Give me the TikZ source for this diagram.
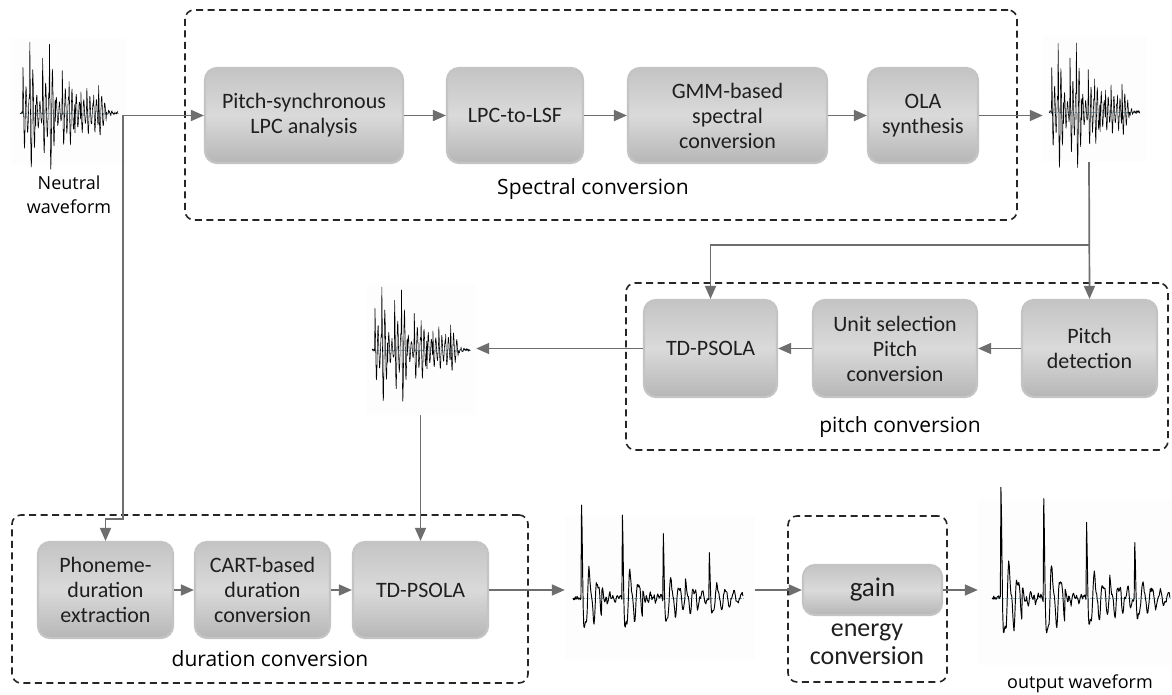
\documentclass[tikz,border=0pt]{standalone}
\usepackage{fontspec}
\setmainfont{Carlito}
\newfontfamily\lblfont{Open Sans}
\usetikzlibrary{arrows.meta,calc}

\definecolor{boxedge}{HTML}{C4C4C4}
\definecolor{boxtop}{HTML}{C4C4C4}
\definecolor{boxmid}{HTML}{DADADA}
\definecolor{boxbot}{HTML}{B6B6B6}
\definecolor{wire}{HTML}{6E6E6E}
\definecolor{zeroline}{HTML}{8DB6CC}
\definecolor{wavebg}{HTML}{FDFDFD}

% draws one speech trace: #1 left end of the zero line, #2 width,
% #3 amplitude scale, #4 signal function, #5 line width, #6 seed
\newcommand\speechtrace[6]{%
  \pgfmathsetseed{#6}%
  \begin{scope}[shift={#1}]
    \draw[zeroline, densely dotted, line width=0.6pt] (0,0) -- (#2,0);
    \draw[black, line width=#5, line join=round]
      plot[domain=0:1, samples=300, variable=\t] ({#2*\t},{-#3*(#4(\t)+0.025*rand)});
  \end{scope}}

\begin{document}
\begin{tikzpicture}[x=1pt,y=-1pt,
  declare function={
    ringa(\t,\p,\a)=(\t>\p)*\a*exp(-min(16*max(\t-\p,0),9))*cos(deg(2*pi*31*max(\t-\p,0)));
    wava(\t)=ringa(\t,0.03,0.7)+ringa(\t,0.10,1.0)+ringa(\t,0.16,-0.55)+ringa(\t,0.23,0.8)
      +ringa(\t,0.30,0.95)+ringa(\t,0.36,-0.5)+ringa(\t,0.43,0.6)+ringa(\t,0.50,0.45)
      +ringa(\t,0.56,-0.55)+ringa(\t,0.62,0.5)+ringa(\t,0.68,0.3)+ringa(\t,0.75,0.25)
      +ringa(\t,0.80,0.6)+ringa(\t,0.88,0.15);
    ringb(\t,\p,\a)=(\t>\p)*\a*exp(-min(8*max(\t-\p,0),9))*(cos(deg(2*pi*21*max(\t-\p,0)))+0.35*cos(deg(2*pi*47*max(\t-\p,0))));
    spikeb(\t,\p,\a)=(\t>\p)*\a*exp(-min(70*max(\t-\p,0),9))*cos(deg(2*pi*30*max(\t-\p,0)));
    wavb(\t)=ringb(\t,0.05,0.5)+spikeb(\t,0.05,0.6)+ringb(\t,0.29,0.5)+spikeb(\t,0.29,0.55)
      +ringb(\t,0.53,0.38)+spikeb(\t,0.53,0.45)+ringb(\t,0.80,0.22)+spikeb(\t,0.80,0.4)
      +ringb(\t,0.17,0.25)+ringb(\t,0.41,0.22)+ringb(\t,0.66,0.18);
  },
  proc/.style={rectangle, rounded corners=12pt, draw=boxedge, line width=2.2pt,
    top color=boxtop, bottom color=boxbot, middle color=boxmid,
    align=center, inner sep=0pt, text=black!88, font=\fontsize{22}{25}\selectfont},
  grp/.style={rectangle, draw=black!85, line width=1.6pt, rounded corners=9pt,
    dash pattern=on 7pt off 4.5pt, inner sep=0pt},
  conn/.style={draw=wire, line width=1.7pt, -{Triangle[length=13pt,width=11pt]}},
  wire/.style={draw=wire, line width=1.7pt},
  wavenode/.style={rectangle, fill=wavebg, inner sep=0pt},
  seclabel/.style={font=\lblfont\fontsize{21}{25}\selectfont, inner sep=0pt},
  wavelabel/.style={font=\lblfont\fontsize{18}{24}\selectfont, align=center, inner sep=0pt},
]
\useasboundingbox (0,0) rectangle (1172,695);
\fill[white] (0,0) rectangle (1172,695);

% dashed group frames
\node[grp, minimum width=832pt, minimum height=210pt] (specgrp) at (601,115) {};
\node[grp, minimum width=542pt, minimum height=167pt] (pitchgrp) at (897,366.5) {};
\node[grp, minimum width=516pt, minimum height=168pt] (durgrp) at (270,599) {};
\node[grp, minimum width=159pt, minimum height=166pt] (enggrp) at (867.5,599) {};

% group captions
\node[seclabel] (speclbl) at (593,189) {Spectral conversion};
\node[seclabel] (pitchlbl) at (900,427) {pitch conversion};
\node[seclabel] (durlbl) at (270,659) {duration conversion};
\node[align=center, inner sep=0pt, text=black!88, font=\fontsize{26}{28}\selectfont] (englbl) at (867,644) {energy\\conversion};

% waveform panels
\node[wavenode, minimum width=114pt, minimum height=127pt] (win) at (69,101.5) {};
\node[wavenode, minimum width=104pt, minimum height=127pt] (wspec) at (1095,98.5) {};
\node[wavenode, minimum width=110pt, minimum height=130pt] (wpitch) at (421,350) {};
\node[wavenode, minimum width=190pt, minimum height=145pt] (wdur) at (660,587.5) {};
\node[wavenode, minimum width=194pt, minimum height=165pt] (wout) at (1075,582.5) {};

\speechtrace{(20,113)}{98}{64}{wava}{0.55pt}{11}
\speechtrace{(1049,112)}{91}{64}{wava}{0.55pt}{23}
\speechtrace{(372,350)}{98}{58}{wava}{0.55pt}{37}
\speechtrace{(573,598)}{170}{74}{wavb}{0.95pt}{5}
\speechtrace{(992,598)}{178}{88}{wavb}{0.95pt}{9}

\node[wavelabel] (inlbl) at (69,195) {Neutral\\waveform};
\node[wavelabel] (outlbl) at (1080,684) {output waveform};

% processing blocks
\node[proc, minimum width=198pt, minimum height=95pt] (psync) at (304,115.5) {Pitch-synchronous\\LPC analysis};
\node[proc, minimum width=136pt, minimum height=95pt] (lpc) at (515,115.5) {LPC-to-LSF};
\node[proc, minimum width=199pt, minimum height=95pt] (gmm) at (727.5,115.5) {GMM-based\\spectral\\conversion};
\node[proc, minimum width=110pt, minimum height=95pt] (ola) at (923,115.5) {OLA\\synthesis};

\node[proc, minimum width=133pt, minimum height=97pt] (tdpa) at (710.5,348.5) {TD-PSOLA};
\node[proc, minimum width=164pt, minimum height=97pt] (unit) at (895,348.5) {Unit selection\\Pitch\\conversion};
\node[proc, minimum width=135pt, minimum height=97pt] (pdet) at (1089.5,348.5) {Pitch\\detection};

\node[proc, minimum width=135pt, minimum height=96pt] (phon) at (105.5,590) {Phoneme-\\duration\\extraction};
\node[proc, minimum width=135pt, minimum height=96pt] (cart) at (262.5,590) {CART-based\\duration\\conversion};
\node[proc, minimum width=135pt, minimum height=96pt] (tdpb) at (420.5,590) {TD-PSOLA};

\node[proc, minimum width=139pt, minimum height=50pt, font=\fontsize{27}{27}\selectfont] (gain) at (872.5,590) {gain};

% junction points
\coordinate (j1) at (123,115.5);
\coordinate (jog) at ($(phon.north)+(0,-22)$);
\coordinate (split) at (1089,245);

% spectral conversion chain
\draw[conn] (j1) -- (psync.west);
\draw[wire] (win.east |- j1) -- (j1);
\draw[conn] (psync) -- (lpc);
\draw[conn] (lpc) -- (gmm);
\draw[conn] (gmm) -- (ola);
\draw[conn] (ola.east) -- (wspec.west |- ola.east);

% pitch conversion chain
\draw[conn] (wspec.south -| split) -- (pdet.north);
\draw[conn] (split) -| (tdpa.north);
\draw[conn] (pdet) -- (unit);
\draw[conn] (unit) -- (tdpa);
\draw[conn] (tdpa.west) -- (wpitch.east |- tdpa.west);

% duration conversion chain
\draw[conn] (j1) |- (jog) -- (phon.north);
\draw[conn] (wpitch.south -| tdpb.north) -- (tdpb.north);
\draw[conn] (phon) -- (cart);
\draw[conn] (cart) -- (tdpb);
\draw[conn] (tdpb.east) -- (wdur.west |- tdpb.east);

% energy conversion
\draw[conn] (wdur.east |- gain.west) -- (gain.west);
\draw[conn] (gain.east) -- (wout.west |- gain.east);
\end{tikzpicture}
\end{document}
